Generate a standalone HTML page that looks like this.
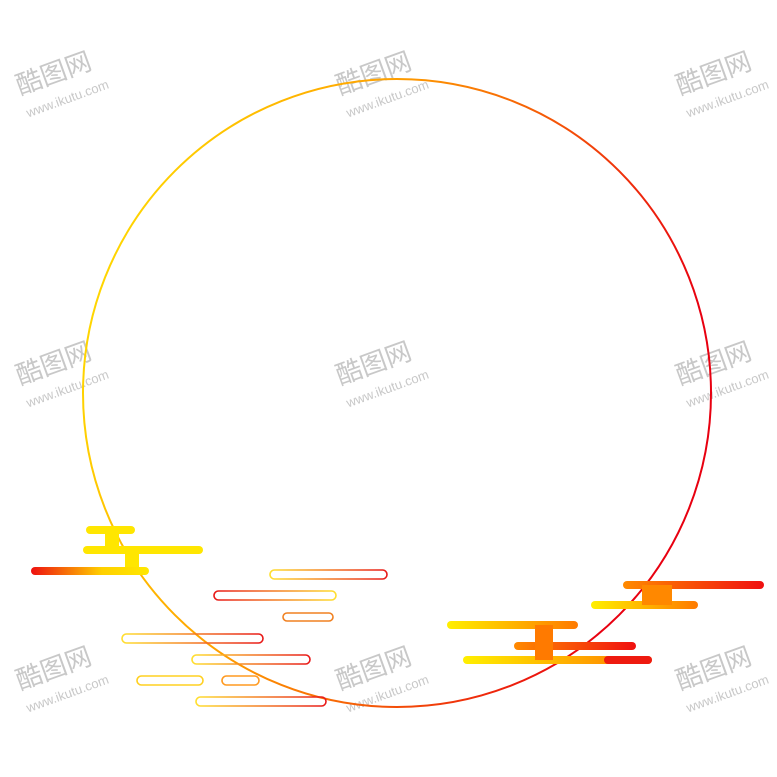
<!DOCTYPE html>
<html><head><style>html,body{margin:0;padding:0;background:#fff;width:777px;height:777px;overflow:hidden}svg{display:block}</style></head>
<body>
<svg width="777" height="777" viewBox="0 0 777 777" xmlns="http://www.w3.org/2000/svg">
<defs>
<linearGradient id="cg" x1="0" y1="0" x2="1" y2="0.3">
<stop offset="0" stop-color="#ffe800"/><stop offset="0.45" stop-color="#ffa000"/><stop offset="1" stop-color="#e80010"/></linearGradient>
<linearGradient id="yo" x1="0" x2="1"><stop offset="0" stop-color="#ffef00"/><stop offset="1" stop-color="#ff7a00"/></linearGradient>
<linearGradient id="or" x1="0" x2="1"><stop offset="0" stop-color="#ff8a00"/><stop offset="1" stop-color="#f01010"/></linearGradient>
<linearGradient id="ry" x1="0" x2="1"><stop offset="0" stop-color="#ee1010"/><stop offset="0.6" stop-color="#ffd000"/><stop offset="1" stop-color="#ffe800"/></linearGradient>
<linearGradient id="sr" x1="0" x2="1"><stop offset="0" stop-color="#e81818"/><stop offset="1" stop-color="#ffe030"/></linearGradient>
<linearGradient id="sy" x1="0" x2="1"><stop offset="0" stop-color="#ffe030"/><stop offset="1" stop-color="#e81818"/></linearGradient>
</defs>
<g fill="#c8c8c8" font-family="Liberation Sans, 'Noto Sans CJK SC', sans-serif">
<g transform="translate(20,95) rotate(-20)"><text font-size="26">酷图网</text><text y="24" font-size="13">www.ikutu.com</text></g>
<g transform="translate(340,95) rotate(-20)"><text font-size="26">酷图网</text><text y="24" font-size="13">www.ikutu.com</text></g>
<g transform="translate(680,95) rotate(-20)"><text font-size="26">酷图网</text><text y="24" font-size="13">www.ikutu.com</text></g>
<g transform="translate(20,385) rotate(-20)"><text font-size="26">酷图网</text><text y="24" font-size="13">www.ikutu.com</text></g>
<g transform="translate(340,385) rotate(-20)"><text font-size="26">酷图网</text><text y="24" font-size="13">www.ikutu.com</text></g>
<g transform="translate(680,385) rotate(-20)"><text font-size="26">酷图网</text><text y="24" font-size="13">www.ikutu.com</text></g>
<g transform="translate(20,690) rotate(-20)"><text font-size="26">酷图网</text><text y="24" font-size="13">www.ikutu.com</text></g>
<g transform="translate(340,690) rotate(-20)"><text font-size="26">酷图网</text><text y="24" font-size="13">www.ikutu.com</text></g>
<g transform="translate(680,690) rotate(-20)"><text font-size="26">酷图网</text><text y="24" font-size="13">www.ikutu.com</text></g>
</g>
<circle cx="397" cy="393" r="314" fill="none" stroke="url(#cg)" stroke-width="2"/>
<g fill="#ffe600">
<rect x="86" y="526" width="49" height="8" rx="4"/>
<rect x="83" y="546" width="120" height="8" rx="4"/>
<rect x="105" y="530" width="14" height="20"/>
<rect x="125" y="550" width="14" height="20"/>
</g>
<rect x="31" y="567" width="118" height="8" rx="4" fill="url(#ry)"/>
<g>
<rect x="623" y="581" width="141" height="8" rx="4" fill="url(#or)"/>
<rect x="591" y="601" width="107" height="8" rx="4" fill="url(#yo)"/>
<rect x="642" y="585" width="30" height="20" fill="#ff8800"/>
<rect x="447" y="621" width="131" height="8" rx="4" fill="url(#yo)"/>
<rect x="514" y="642" width="122" height="8" rx="4" fill="url(#or)"/>
<rect x="463" y="656" width="189" height="8" rx="4" fill="url(#yo)"/>
<rect x="535" y="625" width="18" height="35" fill="#ff7a00"/>
<rect x="604" y="656" width="48" height="8" rx="4" fill="#ee1a10"/>
</g>
<g fill="none" stroke-width="1.6">
<rect x="270" y="570" width="117" height="9" rx="4.5" stroke="url(#sy)"/>
<rect x="214" y="591" width="122" height="9" rx="4.5" stroke="url(#sr)"/>
<rect x="283" y="613" width="50" height="8" rx="4" stroke="#f08020"/>
<rect x="122" y="634" width="141" height="9" rx="4.5" stroke="url(#sy)"/>
<rect x="192" y="655" width="118" height="9" rx="4.5" stroke="url(#sy)"/>
<rect x="137" y="676" width="66" height="9" rx="4.5" stroke="#ffd020"/>
<rect x="222" y="676" width="37" height="9" rx="4.5" stroke="#ff9a20"/>
<rect x="196" y="697" width="130" height="9" rx="4.5" stroke="url(#sy)"/>
</g>
</svg>
</body></html>
